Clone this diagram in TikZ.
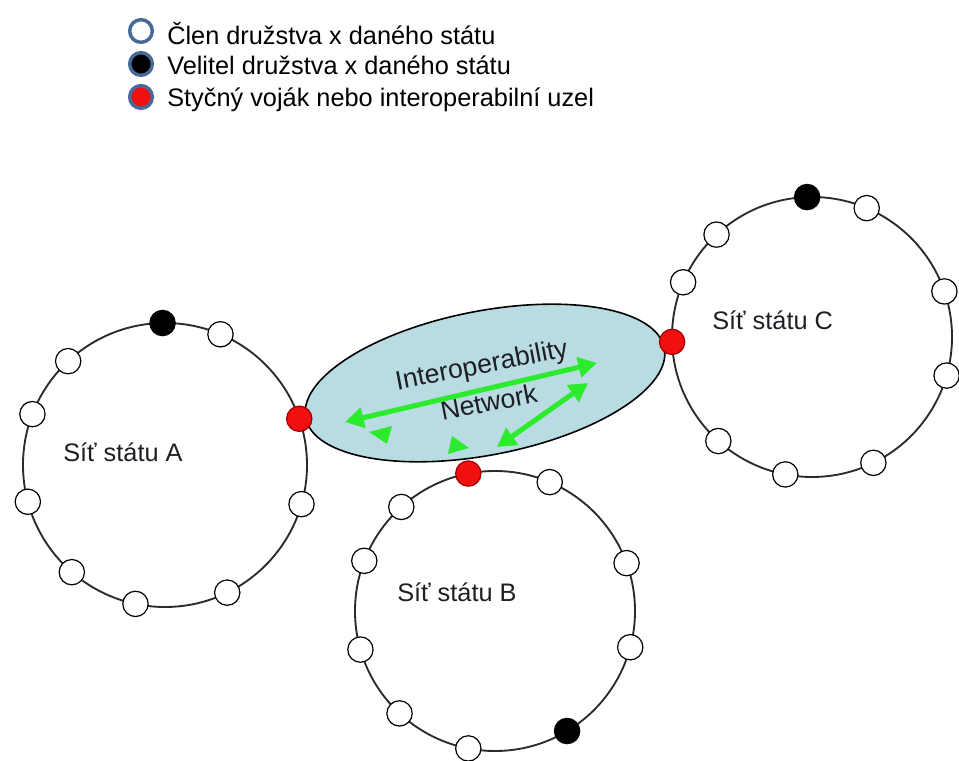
\documentclass[tikz,border=0pt]{standalone}
\usepackage{fontspec}
\setmainfont{Liberation Sans}
\usepackage{xcolor}
\definecolor{netLine}{HTML}{2B2B2B}
\definecolor{netRed}{HTML}{F01010}
\definecolor{netRedDark}{HTML}{9E0000}
\definecolor{netGreen}{HTML}{2CEB2C}
\definecolor{inetFill}{HTML}{B9DCE2}
\definecolor{legRing}{HTML}{46699A}
\definecolor{txtDark}{HTML}{1E1E24}
\usetikzlibrary{shapes.geometric,arrows.meta,positioning}
\tikzset{
    network/.style={
        draw=netLine,
        circle,
        line width=1.4pt,
        inner sep=0pt,
        outer sep=0pt
    },
    member/.style={
        draw=black,
        fill=white,
        circle,
        line width=0.9pt,
        minimum size=19pt,
        inner sep=0pt
    },
    leader/.style={member, fill=black},
    liaison/.style={member, draw=netRedDark, fill=netRed},
    inet/.style={
        draw=black,
        fill=inetFill,
        ellipse,
        line width=1.2pt,
        minimum width=274pt,
        minimum height=108pt,
        inner sep=0pt,
        align=center,
        font=\fontsize{20}{29}\selectfont,
        text=txtDark
    },
    link/.style={
        <->,
        >={Triangle[length=14pt,width=15pt]},
        line width=3.8pt,
        color=netGreen
    },
    netlabel/.style={
        anchor=base west,
        inner sep=0pt,
        font=\fontsize{19}{22}\selectfont,
        text=txtDark
    },
    legmark/.style={
        circle,
        draw=legRing,
        line width=2.6pt,
        minimum size=17pt,
        inner sep=0pt
    },
    legtext/.style={
        anchor=base west,
        inner sep=0pt,
        font=\fontsize{19}{22}\selectfont,
        text=black
    }
}

\begin{document}
\begin{tikzpicture}[x=0.75pt,y=0.75pt]
    \useasboundingbox (0,0) rectangle (959,760);

    % legend
    \node[legmark, fill=white] (lgMember) at (141,729) {};
    \node[legmark, fill=black] (lgLeader) at (141,696) {};
    \node[legmark, fill=netRed] (lgLiaison) at (141,663) {};
    \node[legtext] (ltMember) at (167,715) {Člen družstva x daného státu};
    \node[legtext] (ltLeader) at (167,685) {Velitel družstva x daného státu};
    \node[legtext] (ltLiaison) at (167,653) {Styčný voják nebo interoperabilní uzel};

    % the three national networks
    \node[network, minimum size=213pt] (netA) at (165,295) {};
    \node[network, minimum size=210pt] (netB) at (495,149) {};
    \node[network, minimum size=210pt] (netC) at (812,423) {};

    % interoperability network between them
    \node[inet, rotate=11] (inet) at (485,377) {Interoperability\\Network};

    % green links inside the ellipse
    \coordinate (lkA1) at (345,338);
    \coordinate (lkA2) at (597,397);
    \coordinate (lkB1) at (497,313);
    \coordinate (lkB2) at (588,377);
    \draw[link] (lkA1) -- (lkA2);
    \draw[link] (lkB1) -- (lkB2);
    \fill[netGreen] (369,328) -- (392,334) -- (387,316) -- cycle;
    \fill[netGreen] (452,324) -- (469,312) -- (448,306) -- cycle;

    % members of network A
    \foreach \a in {67,133,159,195,229,258,296,-16}
        \node[member] (mA\a) at (netA.\a) {};
    \node[leader] (ldA) at (netA.91) {};
    \node[liaison] (lsA) at (netA.19) {};

    % members of network B
    \foreach \a in {67,132,159,20,196,-15,227,259}
        \node[member] (mB\a) at (netB.\a) {};
    \node[leader] (ldB) at (netB.301) {};
    \node[liaison] (lsB) at (netB.101) {};

    % members of network C
    \foreach \a in {67,133,157,19,-16,228,296,259}
        \node[member] (mC\a) at (netC.\a) {};
    \node[leader] (ldC) at (netC.92) {};
    \node[liaison] (lsC) at (netC.182) {};

    % network names
    \node[netlabel] (lbA) at (63,298) {Síť státu A};
    \node[netlabel] (lbB) at (397,158) {Síť státu B};
    \node[netlabel] (lbC) at (712,430) {Síť státu C};
\end{tikzpicture}
\end{document}
